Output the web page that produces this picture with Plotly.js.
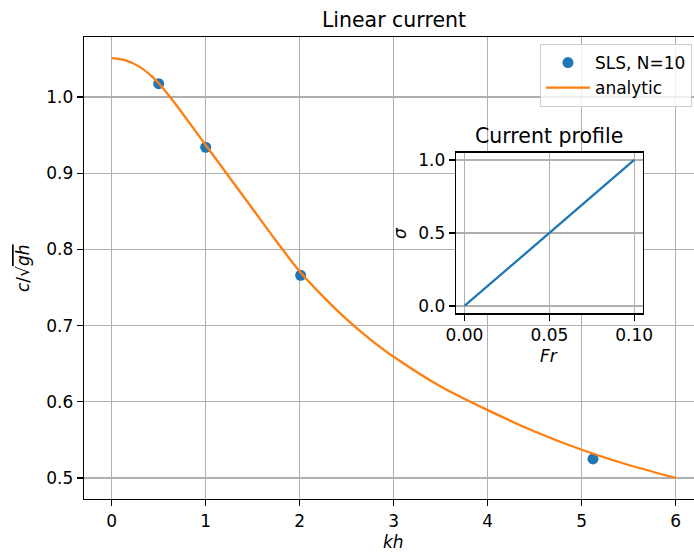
<!DOCTYPE html>
<html>
<head>
<meta charset="utf-8">
<script src="https://cdn.plot.ly/plotly-3.0.1.min.js"></script>
<style>html,body{margin:0;padding:0;background:#fff;}</style>
</head>
<body>
<div id="chart" style="width:694px;height:552px;"></div>
<script>
// SLS, N=10 points
const slsKh = [0.5, 1.0, 2.01, 5.12];
const slsC = [1.0175, 0.934, 0.766, 0.525];

// analytic curve
const anaKh = [0, 0.14, 0.28, 0.43, 0.5, 0.61, 0.75, 1.0, 1.25, 1.5, 1.75, 2.0, 2.25, 2.5, 2.75, 3.0, 3.5, 4.0, 4.5, 5.0, 5.5, 6.0];
const anaC = [1.051, 1.0484, 1.0408, 1.0268, 1.018, 1.0015, 0.979, 0.937, 0.895, 0.853, 0.811, 0.771, 0.738, 0.708, 0.682, 0.659, 0.62, 0.589, 0.561, 0.537, 0.517, 0.5];

// current profile inset
const profFr = [0, 0.1];
const profSigma = [0, 1];

// tick values
const mainXTicks = [0, 1, 2, 3, 4, 5, 6];
const mainYTicks = [0.5, 0.6, 0.7, 0.8, 0.9, 1.0];
const insetXTicks = [0, 0.05, 0.1];
const insetYTicks = [0, 0.5, 1.0];

const FONT = 'DejaVu Sans';
const tickFont = {family: FONT, size: 17, color: '#000'};

const axisCommon = {
  ticks: 'outside', ticklen: 6, tickwidth: 1.3, tickcolor: '#000',
  showline: true, linecolor: '#000', linewidth: 1.3,
  showgrid: true, gridcolor: '#b0b0b0', gridwidth: 1.3,
  zeroline: false, tickfont: tickFont
};

const traces = [
  {x: slsKh, y: slsC, type: 'scatter', mode: 'markers', name: 'SLS, N=10',
   marker: {color: '#1f77b4', size: 11}, xaxis: 'x', yaxis: 'y'},
  {x: anaKh, y: anaC, type: 'scatter', mode: 'lines', name: 'analytic',
   line: {color: '#ff7f0e', width: 2.3, shape: 'spline', smoothing: 0.8}, xaxis: 'x', yaxis: 'y'},
  {x: profFr, y: profSigma, type: 'scatter', mode: 'lines', showlegend: false,
   line: {color: '#1f77b4', width: 2.3}, xaxis: 'x2', yaxis: 'y2'}
];

const layout = {
  width: 694, height: 552,
  margin: {l: 84, r: 0, t: 37, b: 53},
  paper_bgcolor: '#fff', plot_bgcolor: '#fff',
  font: {family: FONT, color: '#000'},
  title: {text: 'Linear current', font: {family: FONT, size: 20.5, color: '#000'},
          x: 0.5677, xanchor: 'center', y: 0.9647, yanchor: 'middle'},
  xaxis: Object.assign({}, axisCommon, {range: [-0.2947, 6.195], tickvals: mainXTicks, mirror: true, domain: [0, 1]}),
  yaxis: Object.assign({}, axisCommon, {range: [0.4724, 1.0787], tickvals: mainYTicks, tickformat: '.1f', mirror: false}),
  xaxis2: Object.assign({}, axisCommon, {domain: [0.6098, 0.9159], anchor: 'y2', range: [-0.005, 0.105],
          tickvals: insetXTicks, tickformat: '.2f', mirror: true}),
  yaxis2: Object.assign({}, axisCommon, {domain: [0.402, 0.7496], anchor: 'x2', range: [-0.05, 1.05],
          tickvals: insetYTicks, tickformat: '.1f', mirror: true}),
  showlegend: true,
  legend: {x: 0.7475, y: 0.9848, xanchor: 'left', yanchor: 'top', itemwidth: 44,
           bgcolor: 'rgba(255,255,255,0.8)', bordercolor: '#cccccc', borderwidth: 1,
           font: {family: FONT, size: 17, color: '#000'}},
  annotations: [
    {text: 'Current profile', xref: 'x2 domain', yref: 'y2 domain', x: 0.5, y: 1, xanchor: 'center', yanchor: 'middle',
     yshift: 17, showarrow: false, font: {family: FONT, size: 20.5, color: '#000'}},
    {text: '<i>kh</i>', xref: 'paper', yref: 'paper', x: 0.5074, y: -0.0924, xanchor: 'center', yanchor: 'middle',
     showarrow: false, font: {family: FONT, size: 17, color: '#000'}},
    {text: "<i>c</i>/√<span style='text-decoration:overline'><i>gh</i></span>", xref: 'paper', yref: 'paper',
     x: -0.1, y: 0.5, xanchor: 'center', yanchor: 'middle', textangle: -90,
     showarrow: false, font: {family: FONT, size: 17, color: '#000'}},
    {text: '<i>Fr</i>', xref: 'paper', yref: 'paper', x: 0.7623, y: 0.3095, xanchor: 'center', yanchor: 'middle',
     showarrow: false, font: {family: FONT, size: 17, color: '#000'}},
    {text: '<i>σ</i>', xref: 'paper', yref: 'paper', x: 0.518, y: 0.5758, xanchor: 'center', yanchor: 'middle',
     textangle: -90, showarrow: false, font: {family: FONT, size: 17, color: '#000'}}
  ]
};

Plotly.newPlot('chart', traces, layout, {displayModeBar: false, staticPlot: true});
</script>
</body>
</html>
